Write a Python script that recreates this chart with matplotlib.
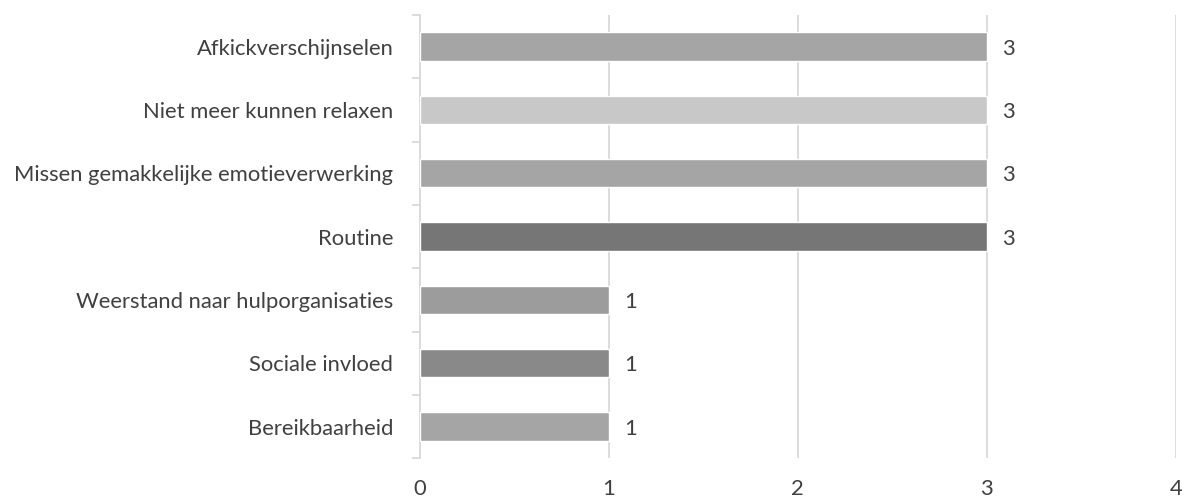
import matplotlib
matplotlib.use("Agg")
import matplotlib.pyplot as plt

categories = ["Afkickverschijnselen", "Niet meer kunnen relaxen",
              "Missen gemakkelijke emotieverwerking", "Routine",
              "Weerstand naar hulporganisaties", "Sociale invloed", "Bereikbaarheid"]
values = [3, 3, 3, 3, 1, 1, 1]
colors = ["#A5A5A5", "#C8C8C8", "#A5A5A5", "#767676", "#9C9C9C", "#898989", "#A5A5A5"]
xticks = [0, 1, 2, 3, 4]

plt.rcParams["font.family"] = ["Lato", "DejaVu Sans"]
TXT = "#404040"
GRID = "#D9D9D9"
FS = 15.8

fig = plt.figure(figsize=(11.89, 4.98), dpi=100)
ax = fig.add_axes([0.353, 0.08, 0.636, 0.89])

ypos = list(range(len(categories)))[::-1]
ax.barh(ypos, values, height=0.45, color=colors, edgecolor="white", linewidth=1, zorder=3)
for y, v in zip(ypos, values):
    ax.text(v + 0.08, y, str(v), va="center_baseline", ha="left", fontsize=FS, color=TXT)

ax.set_xlim(0, 4)
ax.set_ylim(-0.5, len(categories) - 0.5)
ax.set_xticks(xticks)
ax.set_xticklabels([str(t) for t in xticks], fontsize=FS, color=TXT)
ax.tick_params(axis="x", length=0, pad=15)
ax.xaxis.grid(True, color=GRID, linewidth=1.3, zorder=0)

ax.set_yticks(ypos)
ax.set_yticklabels(categories, fontsize=FS, color=TXT, va="center_baseline")
ax.tick_params(axis="y", which="major", length=0, pad=19)
ax.set_yticks([y + 0.5 for y in range(-1, len(categories))], minor=True)
ax.tick_params(axis="y", which="minor", length=6, color=GRID, width=1.3)

for s in ["top", "right", "bottom"]:
    ax.spines[s].set_visible(False)
ax.spines["left"].set_color(GRID)
ax.spines["left"].set_linewidth(1.3)

fig.savefig("out.png", dpi=100)
